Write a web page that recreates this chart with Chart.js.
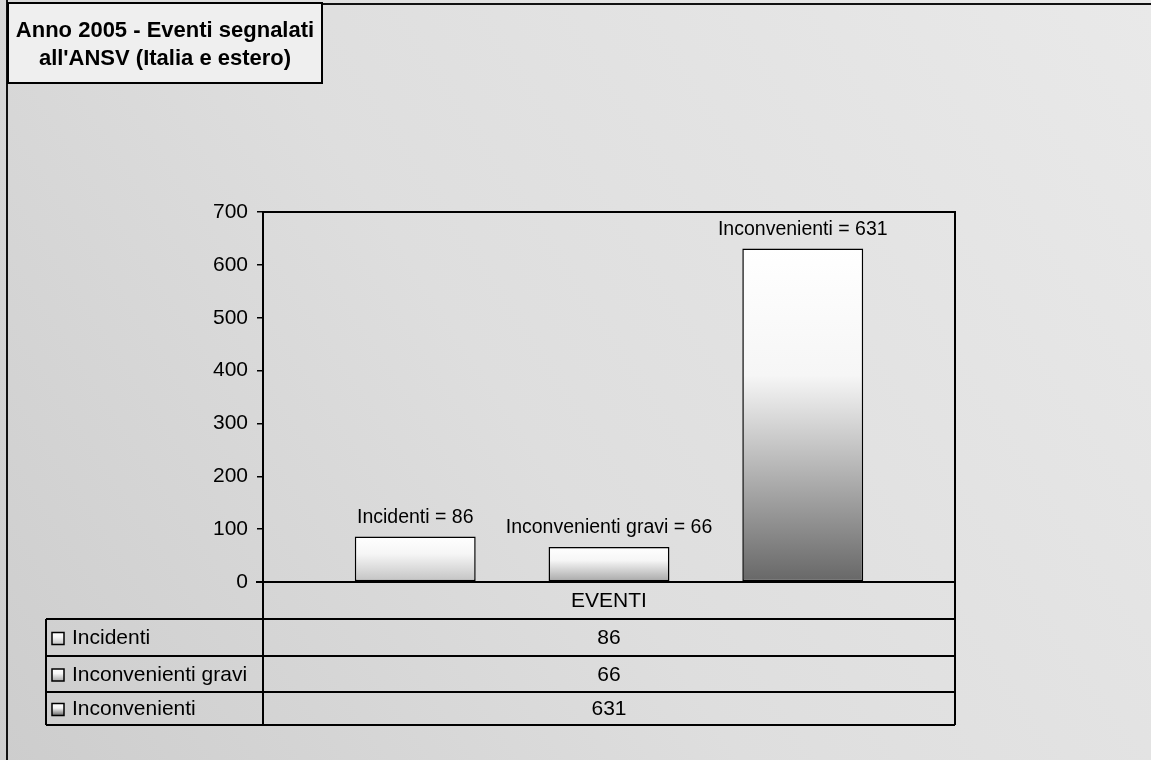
<!DOCTYPE html>
<html lang="it">
<head>
<meta charset="utf-8">
<title>Anno 2005 - Eventi segnalati all'ANSV (Italia e estero)</title>
<script src="https://cdn.jsdelivr.net/npm/chart.js@4/dist/chart.umd.min.js"></script>
<style>
  html, body { margin: 0; padding: 0; background: #dcdcdc; }
  #wrap { width: 1151px; height: 760px; position: relative; }
  canvas { display: block; }
</style>
</head>
<body>
<div id="wrap"><canvas id="chart" width="1151" height="760"></canvas></div>
<script>
// Dati: eventi segnalati all'ANSV nel 2005
const categories = ['EVENTI'];
const seriesNames = ['Incidenti', 'Inconvenienti gravi', 'Inconvenienti'];
const incidenti = [86];
const inconvenientiGravi = [66];
const inconvenienti = [631];
const yTicks = [0, 100, 200, 300, 400, 500, 600, 700];
const titleLines = ['Anno 2005 - Eventi segnalati', "all'ANSV (Italia e estero)"];

const seriesValues = [incidenti, inconvenientiGravi, inconvenienti];
// Colore di fondo del gradiente di ciascuna serie (dall'alto bianco)
const shadeEnds = ['#c2c2c2', '#a6a6a6', '#676767'];

const FONT = '"Liberation Sans", Arial, sans-serif';

function verticalGradient(ctx, top, bottom, endColor) {
  const g = ctx.createLinearGradient(0, top, 0, bottom);
  g.addColorStop(0, '#ffffff');
  g.addColorStop(0.38, '#f6f6f6');
  g.addColorStop(1, endColor);
  return g;
}

function barFill(endColor) {
  return (c) => {
    const chart = c.chart;
    if (!chart.chartArea || c.type !== 'data' || !chart.scales.y) return endColor;
    const y = chart.scales.y;
    const top = y.getPixelForValue(c.raw);
    const base = y.getPixelForValue(0);
    return verticalGradient(chart.ctx, top, base, endColor);
  };
}

// Sfondo, cornice esterna e riquadro del titolo
const framePlugin = {
  id: 'frame',
  beforeDraw(chart) {
    const ctx = chart.ctx;
    const W = chart.width, H = chart.height;
    ctx.save();
    const bg = ctx.createLinearGradient(W, 0, 0, H);
    bg.addColorStop(0, '#e9e9e9');
    bg.addColorStop(0.55, '#dedede');
    bg.addColorStop(1, '#cdcdcd');
    ctx.fillStyle = bg;
    ctx.fillRect(0, 0, W, H);
    ctx.strokeStyle = '#111';
    ctx.lineWidth = 2;
    ctx.beginPath();
    ctx.moveTo(7, 0); ctx.lineTo(7, H);
    ctx.moveTo(7, 4); ctx.lineTo(W, 4);
    ctx.stroke();
    ctx.restore();
  },
  afterDraw(chart) {
    const ctx = chart.ctx;
    ctx.save();
    ctx.fillStyle = '#efefef';
    ctx.fillRect(8, 3, 314, 80);
    ctx.strokeStyle = '#000';
    ctx.lineWidth = 2;
    ctx.strokeRect(8, 3, 314, 80);
    ctx.fillStyle = '#000';
    ctx.font = 'bold 22px ' + FONT;
    ctx.textAlign = 'center';
    ctx.textBaseline = 'middle';
    ctx.fillText(titleLines[0], 165, 31);
    ctx.fillText(titleLines[1], 165, 59);
    ctx.restore();
  }
};

// Bordo dell'area del grafico e asse delle categorie
const plotBorderPlugin = {
  id: 'plotBorder',
  afterDatasetsDraw(chart) {
    const { left, right, top, bottom } = chart.chartArea;
    const ctx = chart.ctx;
    ctx.save();
    ctx.strokeStyle = '#000';
    ctx.lineWidth = 2;
    ctx.beginPath();
    ctx.moveTo(left, top); ctx.lineTo(right, top); ctx.lineTo(right, bottom);
    ctx.moveTo(left - 7, bottom); ctx.lineTo(right, bottom);
    ctx.stroke();
    ctx.restore();
  }
};

// Etichette "Serie = valore" sopra le barre
const valueLabelPlugin = {
  id: 'valueLabels',
  afterDatasetsDraw(chart) {
    const ctx = chart.ctx;
    ctx.save();
    ctx.fillStyle = '#000';
    ctx.font = '19.5px ' + FONT;
    ctx.textAlign = 'center';
    ctx.textBaseline = 'middle';
    chart.data.datasets.forEach((ds, i) => {
      const meta = chart.getDatasetMeta(i);
      meta.data.forEach((bar, j) => {
        ctx.fillText(ds.label + ' = ' + ds.data[j], bar.x, bar.y - 19);
      });
    });
    ctx.restore();
  }
};

// Tabella dati sotto il grafico
const dataTablePlugin = {
  id: 'dataTable',
  afterDraw(chart) {
    const ctx = chart.ctx;
    const { left, right, bottom } = chart.chartArea;
    const tableLeft = 46;
    const headerBottom = 619;
    const rowH = [37, 36, 33];
    const rows = [headerBottom];
    rowH.forEach(h => rows.push(rows[rows.length - 1] + h));
    const tableBottom = rows[rows.length - 1];
    const midX = (left + right) / 2;

    ctx.save();
    ctx.strokeStyle = '#000';
    ctx.lineWidth = 2;
    ctx.beginPath();
    rows.forEach(y => { ctx.moveTo(tableLeft, y); ctx.lineTo(right, y); });
    ctx.moveTo(tableLeft, headerBottom); ctx.lineTo(tableLeft, tableBottom);
    ctx.moveTo(left, bottom); ctx.lineTo(left, tableBottom);
    ctx.moveTo(right, bottom); ctx.lineTo(right, tableBottom);
    ctx.stroke();

    ctx.fillStyle = '#000';
    ctx.font = '21px ' + FONT;
    ctx.textBaseline = 'middle';
    ctx.textAlign = 'center';
    ctx.fillText(categories[0], midX, (bottom + headerBottom) / 2 + 1);

    chart.data.datasets.forEach((ds, i) => {
      const cy = (rows[i] + rows[i + 1]) / 2 + 1;
      ctx.textAlign = 'center';
      ctx.fillStyle = '#000';
      ctx.fillText(String(ds.data[0]), midX, cy);
      // chiave della legenda
      const kx = 52, ky = cy - 6, ks = 12;
      ctx.fillStyle = verticalGradient(ctx, ky, ky + ks, shadeEnds[i]);
      ctx.fillRect(kx, ky, ks, ks);
      ctx.lineWidth = 1.5;
      ctx.strokeRect(kx, ky, ks, ks);
      ctx.fillStyle = '#000';
      ctx.textAlign = 'left';
      ctx.fillText(ds.label, 72, cy);
    });
    ctx.restore();
  }
};

const datasets = seriesNames.map((name, i) => ({
  label: name,
  data: seriesValues[i],
  backgroundColor: barFill(shadeEnds[i]),
  borderColor: '#000',
  borderWidth: 1.5,
  borderSkipped: false,
  categoryPercentage: 0.84,
  barPercentage: 0.624
}));

new Chart(document.getElementById('chart'), {
  type: 'bar',
  data: { labels: categories, datasets },
  options: {
    responsive: false,
    devicePixelRatio: 1,
    animation: false,
    layout: { padding: { left: 0, top: 212, right: 196, bottom: 178 } },
    plugins: {
      legend: { display: false },
      title: { display: false },
      tooltip: { enabled: false }
    },
    scales: {
      x: { display: false },
      y: {
        min: 0,
        max: 700,
        afterFit(scale) { scale.width = 263; },
        afterBuildTicks(scale) { scale.ticks = yTicks.map(v => ({ value: v })); },
        border: { display: true, color: '#000', width: 2 },
        grid: { drawOnChartArea: false, drawTicks: true, tickLength: 6, color: '#000', lineWidth: 1.5 },
        ticks: { color: '#000', font: { family: FONT, size: 21 }, padding: 9 }
      }
    }
  },
  plugins: [framePlugin, plotBorderPlugin, valueLabelPlugin, dataTablePlugin]
});
</script>
</body>
</html>
